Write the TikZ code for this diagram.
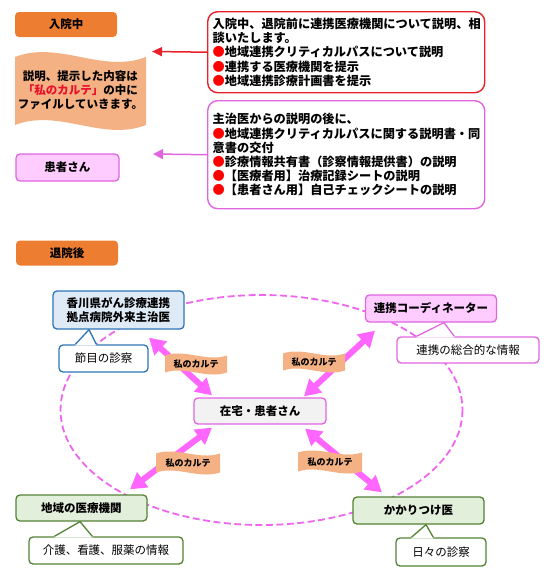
\documentclass[tikz,border=0pt]{standalone}
\usepackage{fontspec}
\setmainfont{Noto Sans CJK JP}
\usetikzlibrary{arrows.meta}
\definecolor{orangeH}{HTML}{ED7D31}
\definecolor{peach}{HTML}{F4B183}
\definecolor{redB}{HTML}{E8202A}
\definecolor{redT}{HTML}{E8102A}
\definecolor{pinkF}{HTML}{FFCCFF}
\definecolor{violetB}{HTML}{E066E0}
\definecolor{dashP}{HTML}{EE66EE}
\definecolor{arrowP}{HTML}{FF66FF}
\definecolor{blueF}{HTML}{DEEBF7}
\definecolor{blueB}{HTML}{2E75B6}
\definecolor{greenF}{HTML}{E2EFDA}
\definecolor{greenB}{HTML}{548235}
\definecolor{grayF}{HTML}{F2F2F2}
\newcommand\myfs{\fontsize{11.5}{14}\selectfont}
\newcommand\myfb{\fontsize{12.2}{14.2}\selectfont}
\newcommand\mywave[5]{%
\fill[peach] ({#1-#3/2},{#2-#4/2}) .. controls ({#1-#3/6},{#2-#4/2-#5}) and ({#1+#3/6},{#2-#4/2+#5}) .. ({#1+#3/2},{#2-#4/2}) -- ({#1+#3/2},{#2+#4/2}) .. controls ({#1+#3/6},{#2+#4/2+#5}) and ({#1-#3/6},{#2+#4/2-#5}) .. ({#1-#3/2},{#2+#4/2}) -- cycle;}
\newcommand\mypointer[4]{%
\fill[white] ([shift={(0,1.2)}]#2) -- (#2) -- (#4) -- (#3) -- ([shift={(0,1.2)}]#3) -- cycle;
\draw[#1, line width=1.3pt, line join=round] (#2) -- (#4) -- (#3);}
\begin{document}
\begin{tikzpicture}[x=1pt,y=-1pt,
  hdr/.style={fill=orangeH, rounded corners=4pt, minimum width=102pt, minimum height=25pt, font=\bfseries\myfs, inner sep=0pt},
  nodebox/.style={draw, line width=1.3pt, rounded corners=4pt, font=\bfseries\myfs, align=center, inner sep=0pt},
  bluebox/.style={nodebox, fill=blueF, draw=blueB},
  pinkbox/.style={nodebox, fill=pinkF, draw=violetB},
  greenbox/.style={nodebox, fill=greenF, draw=greenB},
  graybox/.style={nodebox, fill=grayF, draw=violetB},
  callout/.style={draw, fill=white, line width=1.3pt, rounded corners=4pt, font=\myfs, inner sep=0pt},
  infobox/.style={draw, fill=white, line width=1.4pt, rounded corners=10pt, font=\bfseries\myfb, align=left, text width=267pt, inner xsep=5pt, anchor=north west},
  bigarr/.style={draw=arrowP, line width=6pt, {Triangle[width=18pt,length=16pt]}-{Triangle[width=18pt,length=16pt]}},
  flagtxt/.style={font=\bfseries\fontsize{9}{10}\selectfont, inner sep=0pt}
]
\useasboundingbox (0,0) rectangle (560,574);

% ---- upper part ----
\node[hdr] (h1) at (66,24.5) {入院中};
\mywave{80.5}{91}{131}{68}{17}
\node[font=\bfseries\myfs, align=center, inner sep=0pt] (bn) at (80.5,90) {説明、提示した内容は\\{\color{redT}「私のカルテ」}の中に\\ファイルしていきます。};

\node[infobox, draw=redB, minimum height=81pt] (rb) at (207,11) {入院中、退院前に連携医療機関について説明、相\\談いたします。\\{\color{red}●}地域連携クリティカルパスについて説明\\{\color{red}●}連携する医療機関を提示\\{\color{red}●}地域連携診療計画書を提示};
\coordinate (tipR) at (152,51.5);
\draw[redB, line width=1.5pt, -{Triangle[width=9pt,length=10pt]}] (rb.west) -- (tipR);

\node[pinkbox, minimum width=103pt, minimum height=27pt] (pt) at (67.5,167.5) {患者さん};
\node[infobox, draw=violetB, minimum height=108pt] (pb) at (207,100) {主治医からの説明の後に、\\{\color{red}●}地域連携クリティカルパスに関する説明書・同\\意書の交付\\{\color{red}●}診療情報共有書（診察情報提供書）の説明\\{\color{red}●}【医療者用】治療記録シートの説明\\{\color{red}●}【患者さん用】自己チェックシートの説明};
\coordinate (tipP) at (153,154);
\draw[violetB, line width=1.5pt, -{Triangle[width=10pt,length=10pt]}] (pb.west) -- (tipP);

% ---- lower part ----
\node[hdr] (h2) at (67,253) {退院後};
\draw[dashP, line width=1.8pt, dash pattern=on 7pt off 3.5pt] (261.5,410) ellipse [x radius=201, y radius=115];

\node[bluebox, minimum width=131pt, minimum height=38pt] (bl) at (118.5,310) {香川県がん診療連携\\拠点病院外来主治医};
\node[pinkbox, minimum width=131pt, minimum height=27pt] (co) at (431,308.5) {連携コーディネーター};
\node[graybox, minimum width=132pt, minimum height=26pt] (ce) at (260,411) {在宅・患者さん};
\node[greenbox, minimum width=131pt, minimum height=26pt] (rg) at (81.5,508) {地域の医療機関};
\node[greenbox, minimum width=131pt, minimum height=27pt] (kk) at (418.5,510.5) {かかりつけ医};

\node[callout, draw=blueB, minimum width=89pt, minimum height=27pt] (c1) at (103.5,358.5) {節目の診察};
\node[callout, draw=violetB, minimum width=142pt, minimum height=26pt] (c2) at (468,350) {連携の総合的な情報};
\node[callout, draw=greenB, minimum width=154pt, minimum height=27pt] (c3) at (106,550.5) {介護、看護、服薬の情報};
\node[callout, draw=greenB, minimum width=90pt, minimum height=28pt] (c4) at (441,552) {日々の診察};

\coordinate (p1a) at ([shift={(17,0)}]c1.north west);
\coordinate (p1b) at ([shift={(38,0)}]c1.north west);
\coordinate (p1t) at ([shift={(-29.5,0)}]bl.south);
\coordinate (p2a) at ([shift={(20,0)}]c2.north west);
\coordinate (p2b) at ([shift={(58,0)}]c2.north west);
\coordinate (p2t) at ([shift={(13,0)}]co.south);
\coordinate (p3a) at ([shift={(26,0)}]c3.north west);
\coordinate (p3b) at ([shift={(64,0)}]c3.north west);
\coordinate (p3t) at ([shift={(-1.5,0)}]rg.south);
\coordinate (p4a) at ([shift={(16,0)}]c4.north west);
\coordinate (p4b) at ([shift={(38,0)}]c4.north west);
\coordinate (p4t) at ([shift={(7.5,0)}]kk.south);
\mypointer{blueB}{p1a}{p1b}{p1t}
\mypointer{violetB}{p2a}{p2b}{p2t}
\mypointer{greenB}{p3a}{p3b}{p3t}
\mypointer{greenB}{p4a}{p4b}{p4t}

\draw[bigarr] ([shift={(30.5,8)}]bl.south) -- ([shift={(-48,-2)}]ce.north);
\draw[bigarr] ([shift={(44,-1)}]ce.north) -- ([shift={(-56,8)}]co.south);
\draw[bigarr] ([shift={(-48,3)}]ce.south) -- ([shift={(48.5,-5)}]rg.north);
\draw[bigarr] ([shift={(45,4)}]ce.south) -- ([shift={(-36.5,-4)}]kk.north);

\mywave{196}{364}{62}{17}{7}
\node[flagtxt] (f1) at (196,364) {私のカルテ};
\mywave{314}{362}{62}{17}{7}
\node[flagtxt] (f2) at (314,362) {私のカルテ};
\mywave{188}{463}{64}{19}{7}
\node[flagtxt] (f3) at (188,463) {私のカルテ};
\mywave{330}{462}{64}{19}{7}
\node[flagtxt] (f4) at (330,462) {私のカルテ};
\end{tikzpicture}
\end{document}
